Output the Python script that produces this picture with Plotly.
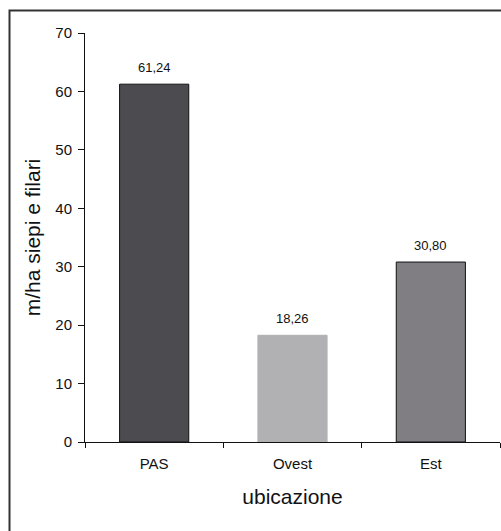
import plotly.graph_objects as go

categories = ["PAS", "Ovest", "Est"]
values = [61.24, 18.26, 30.80]
value_labels = ["61,24", "18,26", "30,80"]
bar_colors = ["#4c4b50", "#b1b1b4", "#807e83"]
edge_colors = ["#111111", "#b1b1b4", "#111111"]

W, H = 501, 531
L, R, T, B = 85, 1, 33, 89

fig = go.Figure()
fig.add_trace(go.Bar(
    x=categories, y=values,
    marker=dict(color=bar_colors, line=dict(color=edge_colors, width=1)),
    width=0.5,
    hoverinfo="skip",
))

for c, v, t in zip(categories, values, value_labels):
    fig.add_annotation(x=c, y=v, text=t, showarrow=False, yanchor="bottom",
                       yshift=7, font=dict(size=13, color="#111", family="Liberation Sans, Arial"))

pw = W - L - R
ph = H - T - B
bx = (9.5 - L) / pw
ty = (H - B - 10.5) / ph
fig.add_shape(type="path", xref="paper", yref="paper",
              path=f"M {bx} -0.3 L {bx} {ty} L 1.3 {ty}",
              line=dict(color="#333333", width=2))

fig.update_layout(
    width=W, height=H,
    margin=dict(l=L, r=R, t=T, b=B),
    paper_bgcolor="white", plot_bgcolor="white",
    showlegend=False,
    font=dict(family="Liberation Sans, Arial", color="#111"),
    xaxis=dict(
        showline=True, linecolor="#111", linewidth=1,
        ticks="outside", tickson="boundaries", ticklen=5, tickcolor="#111",
        tickfont=dict(size=15), ticklabelstandoff=8,
        title=dict(text="ubicazione", font=dict(size=21), standoff=18),
        showgrid=False,
    ),
    yaxis=dict(
        range=[0, 70], dtick=10,
        showline=True, linecolor="#111", linewidth=1,
        ticks="outside", ticklen=6, tickcolor="#111",
        tickfont=dict(size=15), ticklabelstandoff=3,
        title=dict(text="m/ha siepi e filari", font=dict(size=21), standoff=8),
        showgrid=False, zeroline=False,
    ),
)

fig.write_html("out.html")
